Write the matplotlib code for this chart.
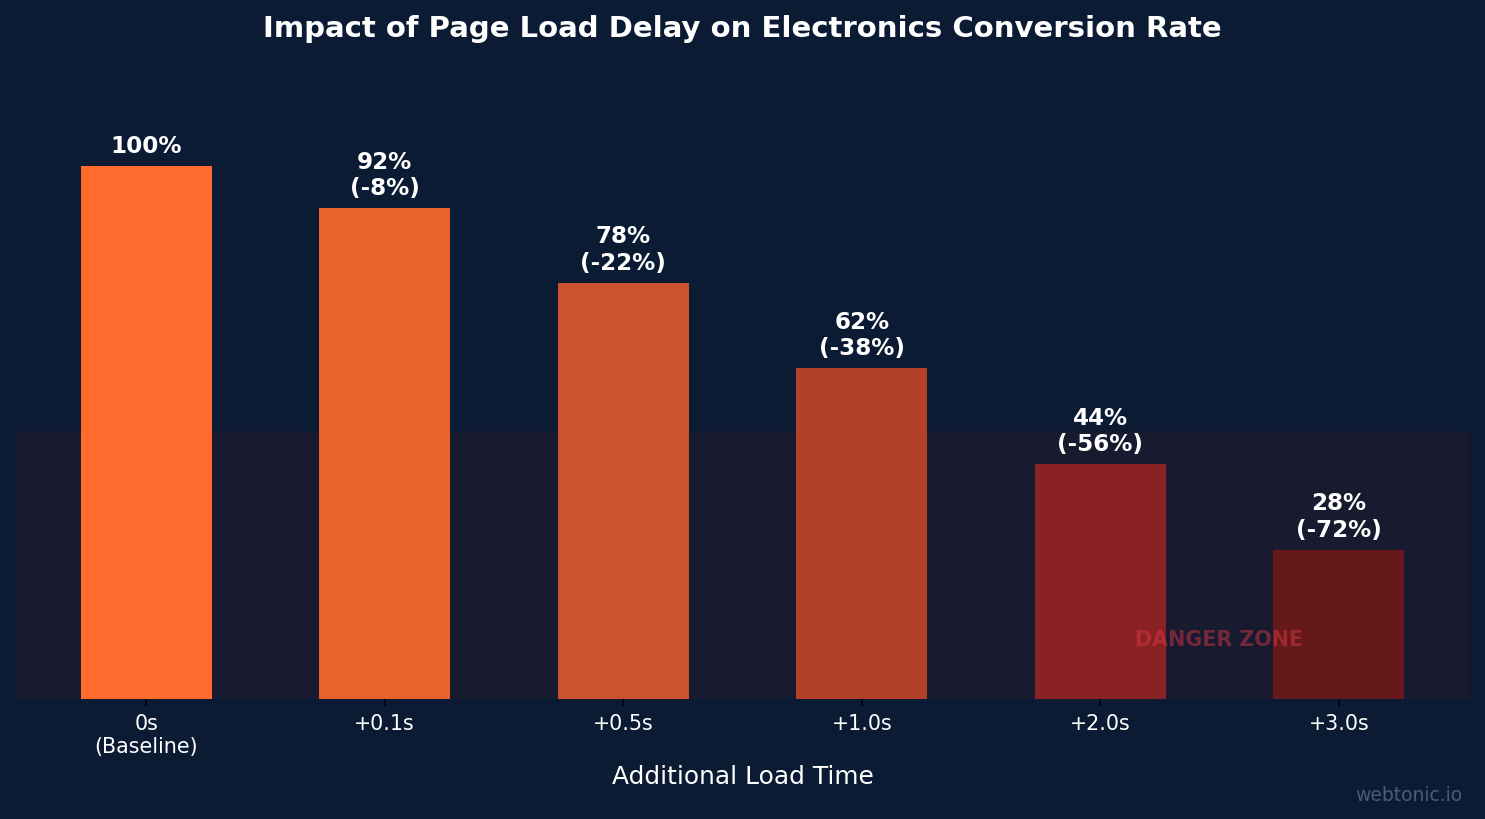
import numpy as np
import matplotlib
matplotlib.use("Agg")
import matplotlib.pyplot as plt

categories = ["0s\n(Baseline)", "+0.1s", "+0.5s", "+1.0s", "+2.0s", "+3.0s"]
conversion = [100, 92, 78, 62, 44, 28]
bar_colors = ["#FF6B2C", "#E8622E", "#CC532D", "#B34029", "#8A2124", "#65191B"]
danger_level = 50

BG = "#0B1B33"

fig = plt.figure(figsize=(1485 / 135, 819 / 135), dpi=135, facecolor=BG)
ax = fig.add_axes([15 / 1485, 1 - 699 / 819, 1455 / 1485, 640 / 819])
ax.set_facecolor(BG)

x = np.arange(len(categories))
ax.axhspan(0, danger_level, color="#181A2F", zorder=0)
ax.bar(x, conversion, width=0.55, color=bar_colors, zorder=2)

for xi, v in zip(x, conversion):
    drop = v - conversion[0]
    label = f"{v}%" if drop == 0 else f"{v}%\n({drop}%)"
    ax.text(xi, v + 1.5, label, ha="center", va="bottom", color="white",
            fontsize=12.3, fontweight="bold", zorder=3)

# semi-transparent label, shows through over the bar
ax.text(4.5, 11, "DANGER ZONE", ha="center", va="center", color="#E63946",
        alpha=0.45, fontsize=11, fontweight="bold", zorder=5)

ax.set_xlim(-0.55, len(categories) - 0.45)
ax.set_ylim(0, 120)
ax.set_xticks(x)
ax.set_xticklabels(categories, color="white", fontsize=11)
ax.tick_params(axis="x", colors="black", labelcolor="white", pad=4.5)
ax.set_yticks([])
for s in ax.spines.values():
    s.set_visible(False)

ax.set_xlabel("Additional Load Time", color="white", fontsize=13.3, labelpad=4)
ax.set_title("Impact of Page Load Delay on Electronics Conversion Rate",
             color="white", fontsize=15.5, fontweight="bold", pad=11.5)

fig.text(0.9845, 0.029, "webtonic.io", ha="right", va="center",
         color="#4B5B76", fontsize=10)

fig.savefig("out.png", dpi=135, facecolor=BG)
